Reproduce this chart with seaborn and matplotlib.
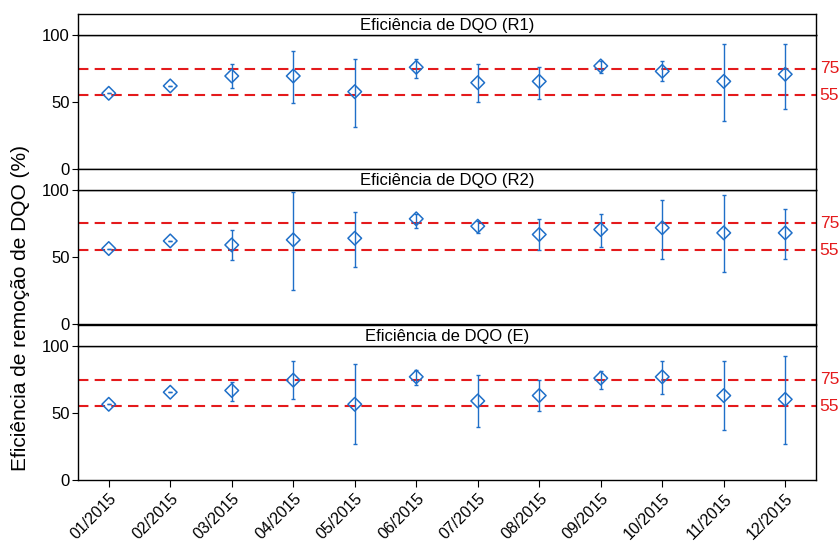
import numpy as np
import pandas as pd
import matplotlib
matplotlib.use("Agg")
import matplotlib.pyplot as plt
import seaborn as sns

months = ["01/2015", "02/2015", "03/2015", "04/2015", "05/2015", "06/2015",
          "07/2015", "08/2015", "09/2015", "10/2015", "11/2015", "12/2015"]

panel_titles = ["Eficiência de DQO (R1)", "Eficiência de DQO (R2)", "Eficiência de DQO (E)"]

r1_mean = [56.5, 62.0, 69.4, 69.4, 57.7, 75.9, 64.4, 65.4, 76.9, 72.9, 65.4, 70.7]
r1_low  = [56.5, 62.0, 60.2, 49.0, 31.1, 67.7, 50.0, 52.5, 71.9, 65.4, 36.0, 45.0]
r1_high = [56.5, 62.0, 78.4, 88.3, 81.8, 81.8, 78.1, 76.4, 80.4, 80.8, 93.3, 93.3]

r2_mean = [56.3, 62.0, 59.0, 62.8, 64.0, 78.5, 73.0, 66.8, 70.5, 71.8, 68.0, 68.0]
r2_low  = [56.3, 62.0, 47.5, 25.7, 42.5, 71.8, 68.0, 55.0, 57.5, 48.8, 38.8, 48.8]
r2_high = [56.3, 62.0, 70.5, 98.8, 83.3, 82.0, 76.5, 78.3, 82.3, 92.5, 96.5, 85.8]

e_mean = [56.5, 65.5, 66.8, 74.5, 56.5, 77.0, 59.0, 63.0, 76.0, 77.0, 63.0, 60.2]
e_low  = [56.5, 65.5, 59.3, 60.2, 27.0, 70.7, 39.8, 51.2, 68.0, 64.2, 37.2, 27.0]
e_high = [56.5, 65.5, 73.0, 88.5, 86.3, 82.2, 78.5, 74.5, 81.0, 88.5, 88.5, 92.5]

ref_lines = [75, 55]
ref_labels = ["75", "55"]
y_ticks = [0, 50, 100]

series = [(r1_mean, r1_low, r1_high), (r2_mean, r2_low, r2_high), (e_mean, e_low, e_high)]

sns.set_theme(style="white")
plt.rcParams["font.family"] = ["Liberation Sans", "DejaVu Sans"]
plt.rcParams["text.color"] = "black"
plt.rcParams["xtick.color"] = "black"
plt.rcParams["ytick.color"] = "black"
plt.rcParams["axes.labelcolor"] = "black"

BLUE = "#1f6fc8"
RED = "#e41a1c"

fig = plt.figure(figsize=(8.39, 5.45), dpi=100)
W, H = 839.0, 545.0
left = 78 / W
width = (816 - 78) / W
panel_px = [(35, 169), (190, 324), (346, 480)]
strip_h = 21

x = np.arange(len(months))

for i, ((top, bot), title, (m, lo, hi)) in enumerate(zip(panel_px, panel_titles, series)):
    ax = fig.add_axes([left, 1 - bot / H, width, (bot - top) / H])
    sax = fig.add_axes([left, 1 - top / H, width, strip_h / H])
    sax.set_xticks([]); sax.set_yticks([])
    for s in sax.spines.values():
        s.set_color("black"); s.set_linewidth(1.0)
    sax.set_facecolor("white")
    sax.text(0.5, 0.45, title, ha="center", va="center", fontsize=12, transform=sax.transAxes)

    df = pd.DataFrame({"x": x, "y": m})
    m_arr = np.array(m); lo_arr = np.array(lo); hi_arr = np.array(hi)
    yerr = np.vstack([m_arr - lo_arr, hi_arr - m_arr])
    ax.errorbar(x, m_arr, yerr=yerr, fmt="none", ecolor=BLUE, elinewidth=1.0,
                capsize=1.6, capthick=1.0, zorder=3)
    for rv, rl in zip(ref_lines, ref_labels):
        ax.axhline(rv, color=RED, linestyle=(0, (5, 3)), linewidth=1.5, zorder=2)
        ax.text(1.005, rv, rl, color=RED, fontsize=12.5, va="center", ha="left",
                transform=ax.get_yaxis_transform(), clip_on=False)
    sns.scatterplot(data=df, x="x", y="y", ax=ax, marker="D", s=48,
                    facecolors="none", edgecolor=BLUE, linewidth=1.1, zorder=4, legend=False)

    ax.set_xlim(-0.5, len(months) - 0.5)
    ax.set_ylim(0, 100)
    ax.set_yticks(y_ticks)
    ax.set_yticklabels([str(t) for t in y_ticks], fontsize=12)
    ax.set_xlabel(""); ax.set_ylabel("")
    for s in ax.spines.values():
        s.set_color("black"); s.set_linewidth(1.0)
    ax.tick_params(axis="y", left=True, length=4, width=0.8, color="black", labelcolor="black", pad=2)
    if i == 2:
        ax.set_xticks(x)
        ax.set_xticklabels(months, rotation=45, ha="right", rotation_mode="anchor", fontsize=11.5)
        ax.tick_params(axis="x", bottom=True, length=5, width=0.8, color="black", labelcolor="black", pad=3)
    else:
        ax.set_xticks([])

fig.text(0.025, 1 - 308 / H, "Eficiência de remoção de DQO (%)",
         rotation=90, ha="center", va="center", fontsize=15, color="black")

fig.savefig("out.png", dpi=100)
